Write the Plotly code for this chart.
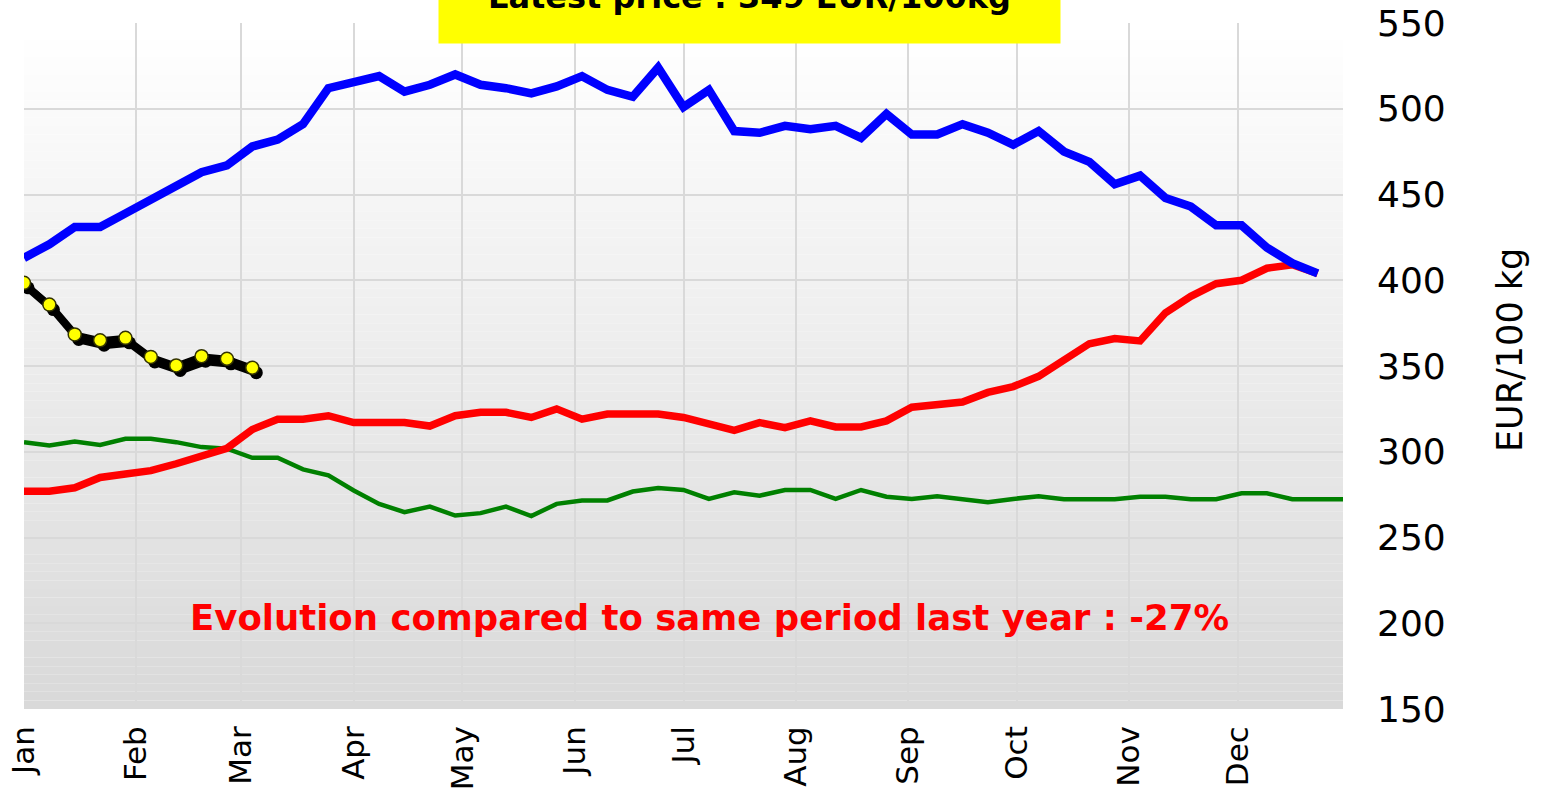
import pandas as pd
import plotly.graph_objects as go

# ---------------- data ----------------
months = ["Jan", "Feb", "Mar", "Apr", "May", "Jun", "Jul", "Aug", "Sep", "Oct", "Nov", "Dec"]

blue_prev2 = [413, 421, 431, 431, 439, 447, 455, 463, 467, 478, 482, 491, 512, 515, 519, 510,
              514, 520, 514, 512, 509, 513, 519, 511, 507, 524, 501, 511, 487, 486, 490, 488,
              490, 483, 497, 485, 485, 491, 486, 479, 487, 475, 469, 456, 461, 448, 443, 432,
              432, 419, 410, 404]

red_prev1 = [277, 277, 279, 285, 287, 289, 293, 297, 302, 313, 319, 319, 321, 317, 317, 317,
             315, 321, 323, 323, 320, 325, 319, 322, 322, 322, 320, 316, 312.5, 317, 314, 318,
             314.5, 314.5, 318, 326, 327.5, 329, 334.6, 338, 344, 353.5, 363, 366, 364.6, 381,
             390.6, 398, 400, 407, 409, 404]

green_prev0 = [305.6, 303.7, 306, 304, 307.6, 307.6, 305.6, 302.7, 301.8, 296.5, 296.5, 289.7,
               286.2, 277.4, 269.6, 264.8, 268, 262.8, 264.2, 268, 262.5, 269.6, 271.6, 271.6,
               276.8, 278.8, 277.7, 272.5, 276.4, 274.4, 277.7, 277.7, 272.5, 277.7, 273.8,
               272.5, 274, 272.5, 270.5, 272.5, 274, 272.3, 272.3, 272.3, 273.8, 273.8, 272.3,
               272.3, 275.8, 275.8, 272.3, 272.3, 272.3]

current = [398.5, 385.8, 368.4, 365, 366.4, 355.3, 350.3, 355.7, 354.2, 349]

title_text = "Latest price : 349 EUR/100kg"
evolution_text = "Evolution compared to same period last year : -27%"
y_title = "EUR/100 kg"
y_ticks = [150, 200, 250, 300, 350, 400, 450, 500, 550]

# ---------------- layout geometry ----------------
W, H = 1545, 796
ML, MR, MT, MB = 24, 202, 23, 87
plot_w = W - ML - MR
plot_h = H - MT - MB

start = pd.Timestamp("2024-01-01")
end = pd.Timestamp("2024-12-30")
px_per_day = plot_w / (end - start).days
y_lo, y_hi = 150, 550
px_per_unit = plot_h / (y_hi - y_lo)


def weeks(n):
    return pd.date_range(start, periods=n, freq="7D")


FONT = "Verdana, DejaVu Sans, sans-serif"

fig = go.Figure()

# gradient background (white -> light gray) as stacked paper shapes
N = 80
for i in range(N):
    t = i / (N - 1)
    c = int(round(255 - (255 - 217) * t))
    fig.add_shape(type="rect", xref="paper", yref="paper",
                  x0=0, x1=1, y0=1 - (i + 1) / N, y1=1 - i / N,
                  fillcolor=f"rgb({c},{c},{c})", line_width=0, layer="below")

fig.add_trace(go.Scatter(x=weeks(len(green_prev0)), y=green_prev0, mode="lines",
                         line=dict(color="#008000", width=4.5), hoverinfo="skip"))
fig.add_trace(go.Scatter(x=weeks(len(red_prev1)), y=red_prev1, mode="lines",
                         line=dict(color="#ff0000", width=7.5), hoverinfo="skip"))
fig.add_trace(go.Scatter(x=weeks(len(blue_prev2)), y=blue_prev2, mode="lines",
                         line=dict(color="#0000ff", width=8.5), hoverinfo="skip"))

# shadow of current-year series on slightly shifted overlay axes
dx_days = 4 / px_per_day
dy_units = 5 / px_per_unit
shift = pd.Timedelta(days=dx_days)
fig.add_trace(go.Scatter(x=weeks(len(current)), y=current, mode="lines+markers",
                         line=dict(color="black", width=8),
                         marker=dict(color="black", size=13),
                         xaxis="x2", yaxis="y2", hoverinfo="skip"))
# current-year series on top overlay axes (same scale as main axes)
fig.add_trace(go.Scatter(x=weeks(len(current)), y=current, mode="lines+markers",
                         line=dict(color="black", width=6),
                         marker=dict(color="#ffff00", size=13,
                                     line=dict(color="#333300", width=1.5)),
                         xaxis="x3", yaxis="y3", hoverinfo="skip"))

fig.update_layout(
    width=W, height=H,
    margin=dict(l=ML, r=MR, t=MT, b=MB, autoexpand=False),
    paper_bgcolor="white",
    plot_bgcolor="rgba(0,0,0,0)",
    showlegend=False,
    font=dict(family=FONT, color="black"),
    xaxis=dict(
        type="date", range=[start, end],
        tickvals=pd.date_range(start, periods=12, freq="MS"),
        ticktext=months, tickangle=-90,
        tickfont=dict(size=31, family=FONT),
        showgrid=True, gridcolor="#d9d9d9", gridwidth=2,
        zeroline=False, showline=False, ticks="",
        ticklabelstandoff=10, automargin=False,
    ),
    yaxis=dict(
        range=[y_lo, y_hi], side="right",
        tickvals=y_ticks,
        tickfont=dict(size=36, family=FONT),
        showgrid=True, gridcolor="#d9d9d9", gridwidth=2,
        zeroline=False, showline=False, ticks="",
        ticklabelstandoff=33, automargin=False,
    ),
    xaxis2=dict(type="date", overlaying="x", visible=False,
                range=[start - shift, end - shift]),
    yaxis2=dict(overlaying="y", visible=False,
                range=[y_lo + dy_units, y_hi + dy_units]),
    xaxis3=dict(type="date", overlaying="x", visible=False, range=[start, end]),
    yaxis3=dict(overlaying="y", visible=False, range=[y_lo, y_hi]),
)

# y axis title (placed as rotated text right of the tick labels)
fig.add_annotation(
    xref="paper", yref="paper",
    x=(1510 - ML) / plot_w, y=(H - MB - 350) / plot_h,
    xanchor="center", yanchor="middle", textangle=-90,
    text=y_title, showarrow=False,
    font=dict(size=35, family=FONT, color="black"),
)

# yellow title box, partially cut off by page top
fig.add_annotation(
    xref="paper", yref="paper",
    x=((439 + 1060) / 2 - ML) / plot_w, y=1 + (MT + 3) / plot_h,
    xanchor="center", yanchor="middle",
    text=f"<b>{title_text}</b>", showarrow=False,
    font=dict(size=32, family=FONT, color="black"),
    bgcolor="#ffff00", width=621, height=92, borderpad=0,
)

fig.add_annotation(
    xref="paper", yref="paper",
    x=(709 - ML) / plot_w, y=(H - MB - 617) / plot_h,
    xanchor="center", yanchor="middle",
    text=f"<b>{evolution_text}</b>", showarrow=False,
    font=dict(size=35.5, family=FONT, color="#ff0000"),
)

fig.write_html("out.html",
               config={"displayModeBar": False},
               post_script="document.body.style.margin='0';document.body.style.overflow='hidden';")
